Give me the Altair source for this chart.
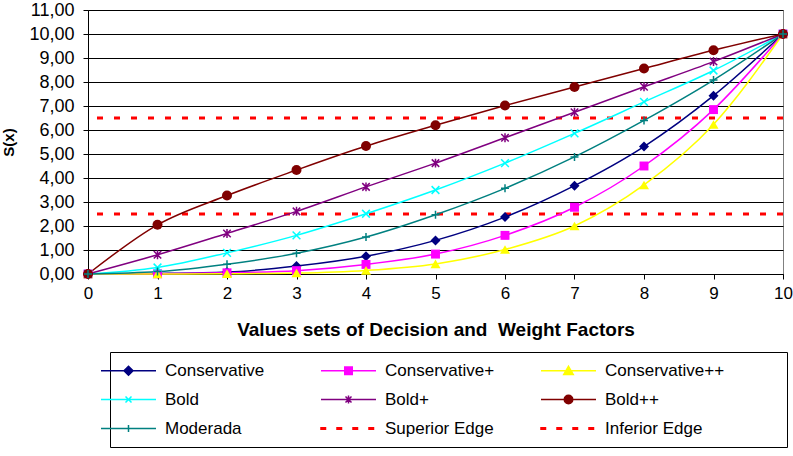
import altair as alt
import pandas as pd

x_values = [0, 1, 2, 3, 4, 5, 6, 7, 8, 9, 10]
conservative = [0, 0.02, 0.08, 0.33, 0.74, 1.40, 2.37, 3.68, 5.31, 7.43, 10]
conservative_p = [0, 0.01, 0.05, 0.14, 0.40, 0.83, 1.61, 2.78, 4.50, 6.85, 10]
conservative_pp = [0, 0.0, 0.01, 0.04, 0.15, 0.42, 1.02, 2.00, 3.71, 6.23, 10]
bold = [0, 0.27, 0.88, 1.61, 2.51, 3.50, 4.62, 5.86, 7.17, 8.48, 10]
bold_p = [0, 0.80, 1.69, 2.61, 3.63, 4.62, 5.68, 6.74, 7.80, 8.85, 10]
bold_pp = [0, 2.05, 3.27, 4.33, 5.33, 6.20, 7.02, 7.79, 8.56, 9.32, 10]
moderada = [0, 0.10, 0.41, 0.86, 1.54, 2.47, 3.57, 4.88, 6.40, 8.08, 10]

edge_names = ["Superior Edge", "Inferior Edge"]
edge_values = [6.5, 2.5]

series_names = ["Conservative", "Conservative+", "Conservative++", "Bold", "Bold+",
                "Bold++", "Moderada"]
series_values = [conservative, conservative_p, conservative_pp, bold, bold_p, bold_pp, moderada]
series_colors = ["#000080", "#FF00FF", "#FFFF00", "#00FFFF", "#800080", "#800000", "#008080"]
edge_color = "#FF0000"

y_ticks = list(range(0, 12))
x_ticks = list(range(0, 11))

FONT = "Liberation Sans"

# marker styles (shape, filled, size)
P_X = "M-1,-1L1,1M-1,1L1,-1"
P_STAR = "M-1,-1L1,1M-1,1L1,-1M0,-1.2V1.2"
P_PLUS = "M-1,0H1M0,-1V1"
marker_styles = [
    ("diamond", True, 100),
    ("square", True, 80),
    ("triangle-up", True, 100),
    (P_X, False, 60),
    (P_STAR, False, 56),
    ("circle", True, 100),
    (P_PLUS, False, 64),
]

# legend symbols: line + marker
LINE = "M-5.5,0H5.5"
legend_paths = [
    LINE + "M0,-0.9L0.9,0L0,0.9L-0.9,0Z",
    LINE + "M-0.75,-0.75H0.75V0.75H-0.75Z",
    LINE + "M0,-0.9L0.95,0.75H-0.95Z",
    LINE + "M-0.6,-0.6L0.6,0.6M-0.6,0.6L0.6,-0.6",
    LINE + "M-0.6,-0.6L0.6,0.6M-0.6,0.6L0.6,-0.6M0,-0.8V0.8",
    LINE + "M-0.85,0A0.85,0.85,0,1,0,0.85,0A0.85,0.85,0,1,0,-0.85,0Z",
    LINE + "M-0.7,0H0.7M0,-0.7V0.7",
]
DASH = ("M-5.5,-0.15H-4.6V0.15H-5.5Z"
        "M-2.3,-0.15H-1.4V0.15H-2.3Z"
        "M0.9,-0.15H1.8V0.15H0.9Z"
        "M4.1,-0.15H5.0V0.15H4.1Z")
legend_names = series_names + edge_names
legend_colors = series_colors + [edge_color, edge_color]
legend_shapes = legend_paths + [DASH, DASH]

rows = []
for name, vals in zip(series_names, series_values):
    for xv, yv in zip(x_values, vals):
        rows.append({"series": name, "x": xv, "y": yv})
df = pd.DataFrame(rows)
edges_df = pd.DataFrame({"series": edge_names, "y": edge_values})
legend_df = pd.DataFrame({"series": legend_names})

x_axis = alt.Axis(values=x_ticks, format="d", grid=False, tickSize=5,
                  tickColor="black", domainColor="black", labelFontSize=17,
                  labelFont=FONT, labelColor="black", labelPadding=6,
                  labelOverlap=False, labelFlush=False,
                  title="Values sets of Decision and\u00a0 Weight Factors",
                  titleFont=FONT, titleFontSize=19, titleFontWeight="bold",
                  titleColor="black", titlePadding=19)
y_axis = alt.Axis(values=y_ticks, labelExpr="replace(format(datum.value, '.2f'), '.', ',')",
                  grid=True, gridColor="black", gridWidth=1, tickSize=5,
                  tickColor="black", domainColor="black", labelFontSize=18,
                  labelFont=FONT, labelColor="black", labelPadding=9,
                  labelOverlap=False, labelFlush=False,
                  title="S(x)", titleFont=FONT, titleFontSize=15,
                  titleFontWeight="bold", titleColor="black", titlePadding=12)
x_scale = alt.Scale(domain=[0, 10], nice=False)
y_scale = alt.Scale(domain=[0, 11], nice=False)


def xe():
    return alt.X("x:Q", scale=x_scale, axis=x_axis)


def ye():
    return alt.Y("y:Q", scale=y_scale, axis=y_axis)


base = alt.Chart(df)

lines = base.mark_line(strokeWidth=1.5, interpolate="monotone").encode(
    x=xe(), y=ye(),
    color=alt.Color("series:N", scale=alt.Scale(domain=series_names, range=series_colors),
                    legend=None),
    detail="series:N",
)

edges = alt.Chart(edges_df).mark_rule(color=edge_color, strokeWidth=3,
                                      strokeDash=[6, 11]).encode(y=ye())

point_layers = []
for name, color, (shape, filled, size) in zip(series_names, series_colors, marker_styles):
    if filled:
        m = base.mark_point(shape=shape, filled=True, size=size, color=color, opacity=1)
    else:
        m = base.mark_point(shape=shape, filled=False, size=size, color=color,
                            strokeWidth=1.5, opacity=1)
    point_layers.append(m.encode(x=xe(), y=ye()).transform_filter(
        alt.datum.series == name))

leg = alt.Legend(orient="none", legendX=22, legendY=342, columns=3, gridAlign="all",
                 direction="horizontal",
                 columnPadding=33, rowPadding=11, padding=10, strokeColor="black",
                 fillColor="white", labelFont=FONT, labelFontSize=17, labelColor="black",
                 labelOffset=28, symbolSize=100, symbolStrokeWidth=1.5, symbolOpacity=1,
                 title=" ", titleOrient="right", titlePadding=53)

legend_layer = alt.Chart(legend_df).mark_point(filled=True, size=100, opacity=1,
                                              strokeWidth=1.5).encode(
    fill=alt.Fill("series:N", scale=alt.Scale(domain=legend_names, range=legend_colors),
                  legend=leg),
    stroke=alt.Stroke("series:N", scale=alt.Scale(domain=legend_names, range=legend_colors),
                      legend=leg),
    shape=alt.Shape("series:N", scale=alt.Scale(domain=legend_names, range=legend_shapes),
                    legend=leg),
).transform_filter("false")

chart = alt.layer(edges, lines, *point_layers, legend_layer).resolve_scale(
    color="independent", fill="independent", stroke="independent", shape="independent"
).properties(
    width=695, height=264,
    autosize=alt.AutoSizeParams(type="none"),
    padding={"left": 88, "top": 10, "right": 10, "bottom": 182},
    background="white",
).configure_view(fill="#C0C0C0", stroke="#808080", strokeWidth=1)

chart.save("out.html", embed_options={"renderer": "svg", "actions": False})
